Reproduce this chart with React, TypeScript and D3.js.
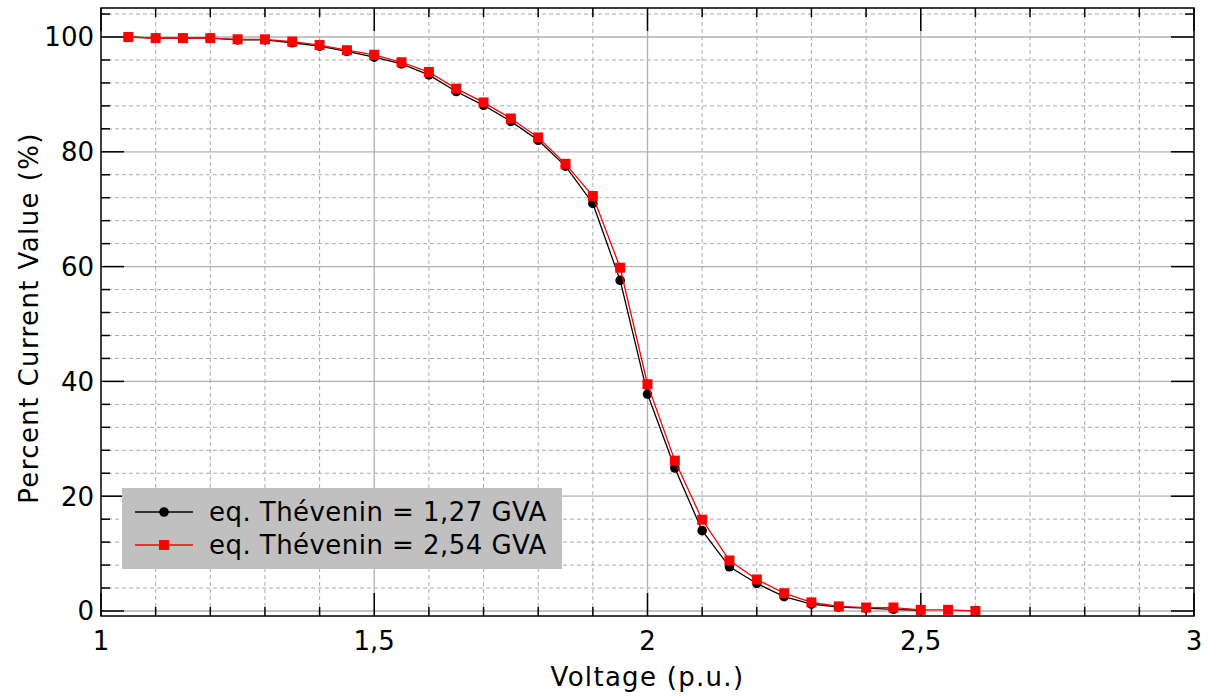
import React from "react";
import * as d3 from "d3";

const xValues = [1.05, 1.1, 1.15, 1.2, 1.25, 1.3, 1.35, 1.4, 1.45, 1.5, 1.55, 1.6, 1.65, 1.7, 1.75, 1.8, 1.85, 1.9, 1.95, 2.0, 2.05, 2.1, 2.15, 2.2, 2.25, 2.3, 2.35, 2.4, 2.45, 2.5, 2.55, 2.6];
const seriesA = [100, 99.8, 99.8, 99.8, 99.5, 99.5, 99.0, 98.4, 97.5, 96.5, 95.3, 93.4, 90.5, 88.1, 85.3, 82.0, 77.5, 71.0, 57.6, 37.8, 24.9, 14.0, 7.7, 4.8, 2.5, 1.2, 0.7, 0.5, 0.3, 0.1];
const seriesB = [100, 99.8, 99.8, 99.8, 99.6, 99.6, 99.2, 98.6, 97.7, 96.9, 95.6, 93.9, 91.0, 88.6, 85.8, 82.5, 77.9, 72.3, 59.8, 39.5, 26.2, 15.9, 8.8, 5.5, 3.1, 1.5, 0.8, 0.6, 0.6, 0.2, 0.2, 0.0];
const seriesNames = ["eq. Thévenin = 1,27 GVA", "eq. Thévenin = 2,54 GVA"];
const xMajorTicks = [1, 1.5, 2, 2.5, 3];
const xTickLabels = ["1", "1,5", "2", "2,5", "3"];
const yMajorTicks = [0, 20, 40, 60, 80, 100];
const xLabel = "Voltage (p.u.)";
const yLabel = "Percent Current Value (%)";

const W = 1210, H = 696;
const L = 101, R = 1194, T = 8, B = 616;
const FONT = "'DejaVu Sans', sans-serif";
const FS = 26;

export default function App() {
  const x = d3.scaleLinear().domain([1, 3]).range([L, R]);
  const y = d3.scaleLinear().domain([0, 100]).range([611, 37]);
  const xMinor = d3.range(11, 30).map((v) => v / 10).filter((v) => Math.abs(v * 2 - Math.round(v * 2)) > 1e-6);
  const yMinor = d3.range(0, 105, 4).filter((v) => v % 20 !== 0);
  const dataA = seriesA.map((v, i) => [xValues[i], v] as [number, number]);
  const dataB = seriesB.map((v, i) => [xValues[i], v] as [number, number]);
  const lineGen = d3.line<[number, number]>().x((d) => x(d[0])).y((d) => y(d[1]));
  const gridGray = "#b0b0b0";
  const dashGray = "#ababab";
  return (
    <svg width={W} height={H} style={{ position: "absolute", left: 0, top: 0, background: "#fff" }} fontFamily={FONT}>
      <rect x={0} y={0} width={W} height={H} fill="#fff" />
      {xMinor.map((v) => (
        <line key={"xm" + v} x1={x(v)} x2={x(v)} y1={T} y2={B} stroke={dashGray} strokeWidth={1} strokeDasharray="4,3" />
      ))}
      {yMinor.map((v) => (
        <line key={"ym" + v} x1={L} x2={R} y1={y(v)} y2={y(v)} stroke={dashGray} strokeWidth={1} strokeDasharray="4,3" />
      ))}
      {xMajorTicks.slice(1, -1).map((v) => (
        <line key={"xM" + v} x1={x(v)} x2={x(v)} y1={T} y2={B} stroke={gridGray} strokeWidth={1.3} />
      ))}
      {yMajorTicks.map((v) => (
        <line key={"yM" + v} x1={L} x2={R} y1={y(v)} y2={y(v)} stroke={gridGray} strokeWidth={1.3} />
      ))}
      {xMinor.map((v) => (
        <g key={"xt" + v}>
          <line x1={x(v)} x2={x(v)} y1={B} y2={B - 9} stroke="#000" strokeWidth={1.5} />
          <line x1={x(v)} x2={x(v)} y1={T} y2={T + 9} stroke="#000" strokeWidth={1.5} />
        </g>
      ))}
      {xMajorTicks.map((v) => (
        <g key={"xT" + v}>
          <line x1={x(v)} x2={x(v)} y1={B} y2={B - 23} stroke="#000" strokeWidth={1.5} />
          <line x1={x(v)} x2={x(v)} y1={T} y2={T + 23} stroke="#000" strokeWidth={1.5} />
        </g>
      ))}
      {yMinor.map((v) => (
        <g key={"yt" + v}>
          <line x1={L} x2={L + 9} y1={y(v)} y2={y(v)} stroke="#000" strokeWidth={1.5} />
          <line x1={R} x2={R - 9} y1={y(v)} y2={y(v)} stroke="#000" strokeWidth={1.5} />
        </g>
      ))}
      {yMajorTicks.map((v) => (
        <g key={"yT" + v}>
          <line x1={L} x2={L + 23} y1={y(v)} y2={y(v)} stroke="#000" strokeWidth={1.5} />
          <line x1={R} x2={R - 23} y1={y(v)} y2={y(v)} stroke="#000" strokeWidth={1.5} />
        </g>
      ))}
      <path d={lineGen(dataA) || ""} fill="none" stroke="#000" strokeWidth={1.3} />
      {dataA.map((d, i) => (
        <circle key={"a" + i} cx={x(d[0])} cy={y(d[1])} r={4.8} fill="#000" />
      ))}
      <path d={lineGen(dataB) || ""} fill="none" stroke="#ff0000" strokeWidth={1.3} />
      {dataB.map((d, i) => (
        <rect key={"b" + i} x={x(d[0]) - 5} y={y(d[1]) - 5} width={10} height={10} fill="#ff0000" />
      ))}
      <rect x={L} y={T} width={R - L} height={B - T} fill="none" stroke="#000" strokeWidth={1.5} />
      {xMajorTicks.map((v, i) => (
        <text key={"xl" + v} x={x(v)} y={650} textAnchor="middle" fontSize={FS} fill="#000">{xTickLabels[i]}</text>
      ))}
      {yMajorTicks.map((v) => (
        <text key={"yl" + v} x={94} y={y(v)} dy="0.36em" textAnchor="end" fontSize={FS} fill="#000">{String(v)}</text>
      ))}
      <text x={(L + R) / 2} y={686} textAnchor="middle" fontSize={FS} letterSpacing={1.3} fill="#000">{xLabel}</text>
      <text transform={`translate(38,${(T + B) / 2 + 6}) rotate(-90)`} textAnchor="middle" fontSize={FS} letterSpacing={1.4} fill="#000">{yLabel}</text>
      <rect x={122} y={488} width={440} height={81} fill="#c0c0c0" />
      <line x1={135} x2={193} y1={512} y2={512} stroke="#000" strokeWidth={1.3} />
      <circle cx={164} cy={512} r={4.8} fill="#000" />
      <text x={209} y={512} dy="0.36em" fontSize={FS} letterSpacing={0.45} fill="#000">{seriesNames[0]}</text>
      <line x1={135} x2={193} y1={545} y2={545} stroke="#ff0000" strokeWidth={1.3} />
      <rect x={159} y={540} width={10} height={10} fill="#ff0000" />
      <text x={209} y={545} dy="0.36em" fontSize={FS} letterSpacing={0.45} fill="#000">{seriesNames[1]}</text>
    </svg>
  );
}
